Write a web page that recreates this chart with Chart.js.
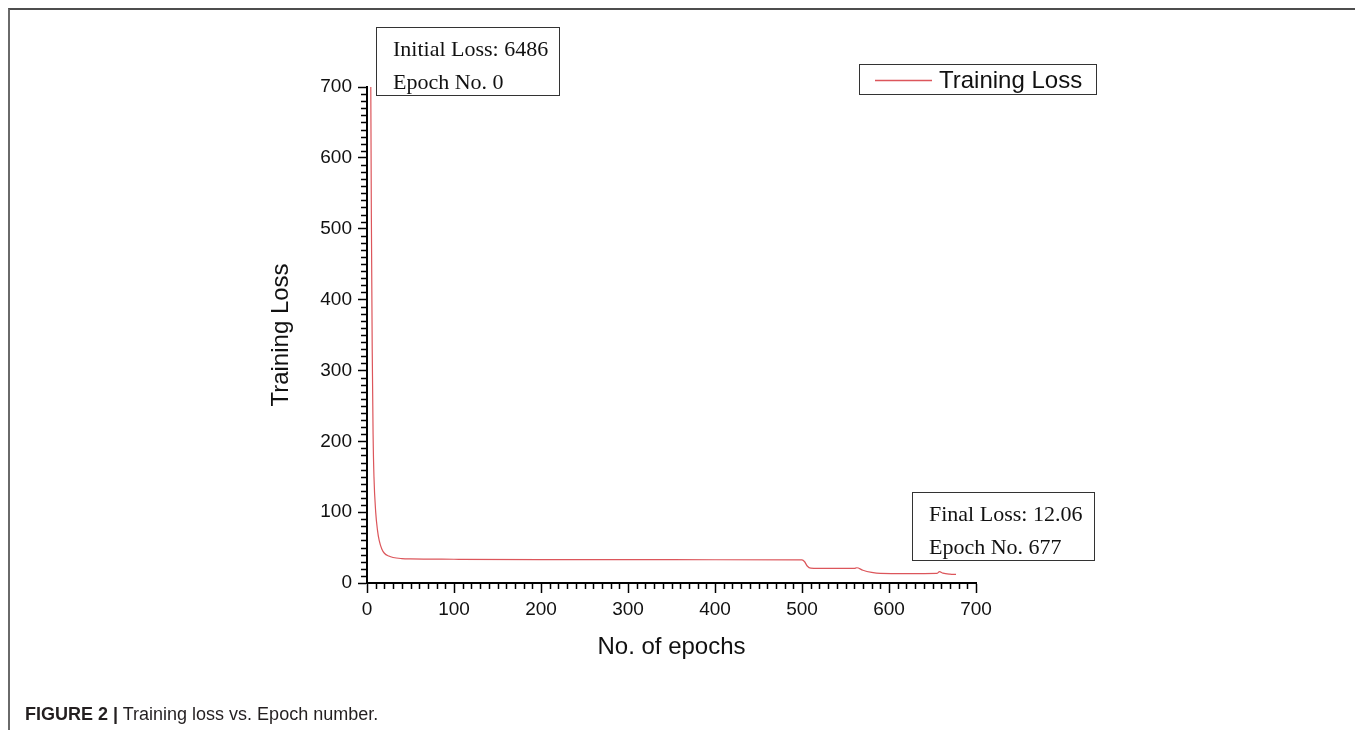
<!DOCTYPE html>
<html>
<head>
<meta charset="utf-8">
<title>Training loss vs. Epoch number</title>
<script src="https://cdn.jsdelivr.net/npm/chart.js@4"></script>
<style>
  body { margin: 0; background: #fff; }
  #wrap { position: relative; width: 1355px; height: 730px; overflow: hidden; }
  #frame { position: absolute; left: 8px; top: 8px; right: 0; bottom: 0;
           border-top: 2px solid #4d4d4d; border-left: 2px solid #6a6a6a; }
  #caption { position: absolute; left: 25px; top: 704px; line-height: 18px;
             font: 18px "Liberation Sans", Arial, sans-serif; color: #231f20; }
  #caption b { font-weight: bold; }
  canvas { position: absolute; left: 0; top: 0; }
</style>
</head>
<body>
<div id="wrap">
  <div id="frame"></div>
  <canvas id="chart" width="1355" height="730"></canvas>
  <div id="caption"><b>FIGURE 2 |</b> Training loss vs. Epoch number.</div>
</div>
<script>
// Values (epoch, training loss)
var epochs = [0, 1, 2, 3, 4, 5, 6, 7, 8, 10, 12, 14, 17, 20, 25, 30, 40, 50, 100, 200, 300, 400,
              500, 503, 506, 510, 530, 560, 563, 570, 580, 590, 620, 655, 658, 662, 670, 677];
var losses = [6486, 3500, 2000, 1200, 800, 520, 330, 210, 150, 100, 75, 60, 48, 42, 38, 36, 34.5, 34, 33.5, 33, 33, 32.8,
              32.5, 30, 24, 21, 20.5, 20.5, 21.5, 18, 15, 13.5, 13.2, 13.5, 16, 14, 12.5, 12.06];

var seriesName = "Training Loss";
var xTitle = "No. of epochs";
var yTitle = "Training Loss";
var initialNote = ["Initial Loss: 6486", "Epoch No. 0"];
var finalNote = ["Final Loss: 12.06", "Epoch No. 677"];

var lineColor = "#dc565b";
var sans = "'Liberation Sans', Arial, sans-serif";
var serif = "'Liberation Serif', 'Times New Roman', serif";

var points = epochs.map(function(e, i) { return { x: e, y: losses[i] }; });

// minor ticks, legend and the two note boxes
var extras = {
  id: "extras",
  afterDraw: function(chart) {
    var ctx = chart.ctx;
    var xs = chart.scales.x, ys = chart.scales.y;
    var area = chart.chartArea;
    ctx.save();
    ctx.strokeStyle = "#000";
    ctx.lineWidth = 1.5;
    ctx.beginPath();
    for (var v = 10; v < 700; v += 10) {
      if (v % 100 === 0) continue;
      var py = Math.round(ys.getPixelForValue(v)) + 0.5;
      ctx.moveTo(area.left - 6, py);
      ctx.lineTo(area.left, py);
      var px = Math.round(xs.getPixelForValue(v)) + 0.5;
      ctx.moveTo(px, area.bottom);
      ctx.lineTo(px, area.bottom + 6);
    }
    ctx.stroke();

    // legend
    ctx.lineWidth = 1;
    ctx.strokeStyle = "#333";
    ctx.strokeRect(859.5, 64.5, 237, 30);
    ctx.strokeStyle = lineColor;
    ctx.lineWidth = 1.5;
    ctx.beginPath();
    ctx.moveTo(875, 80.5);
    ctx.lineTo(932, 80.5);
    ctx.stroke();
    ctx.fillStyle = "#111";
    ctx.font = "24px " + sans;
    ctx.textBaseline = "alphabetic";
    ctx.fillText(seriesName, 939, 88);

    // notes
    function note(lines, x, y, w, h) {
      ctx.lineWidth = 1;
      ctx.strokeStyle = "#333";
      ctx.strokeRect(x + 0.5, y + 0.5, w, h);
      ctx.fillStyle = "#111";
      ctx.font = "22px " + serif;
      ctx.fillText(lines[0], x + 17, y + 29);
      ctx.fillText(lines[1], x + 17, y + 62);
    }
    note(initialNote, 376, 27, 183, 68);
    note(finalNote, 912, 492, 182, 68);
    ctx.restore();
  }
};

new Chart(document.getElementById("chart"), {
  type: "line",
  data: {
    datasets: [{
      label: seriesName,
      data: points,
      borderColor: lineColor,
      borderWidth: 1.2,
      pointRadius: 0,
      cubicInterpolationMode: "monotone",
      fill: false
    }]
  },
  options: {
    responsive: false,
    animation: false,
    devicePixelRatio: 1,
    layout: { padding: { top: 87, right: 379, left: 0, bottom: 0 } },
    plugins: { legend: { display: false }, tooltip: { enabled: false } },
    scales: {
      x: {
        type: "linear",
        min: 0,
        max: 700,
        ticks: { stepSize: 100, color: "#111", padding: 5, maxRotation: 0, font: { family: sans, size: 19 } },
        grid: { drawOnChartArea: false, drawTicks: true, tickLength: 10, tickColor: "#000", tickWidth: 1.5 },
        border: { display: true, color: "#000", width: 2 },
        title: { display: true, text: xTitle, color: "#111", font: { family: sans, size: 24 }, padding: { bottom: 68 } },
        afterFit: function(s) { s.height = 147; }
      },
      y: {
        min: 0,
        max: 700,
        ticks: { stepSize: 100, color: "#111", padding: 6, font: { family: sans, size: 19 } },
        grid: { drawOnChartArea: false, drawTicks: true, tickLength: 9, tickColor: "#000", tickWidth: 1.5 },
        border: { display: true, color: "#000", width: 2 },
        title: { display: true, text: yTitle, color: "#111", font: { family: sans, size: 24 }, padding: { top: 267 } },
        afterFit: function(s) { s.width = 367; }
      }
    }
  },
  plugins: [extras]
});
</script>
</body>
</html>
